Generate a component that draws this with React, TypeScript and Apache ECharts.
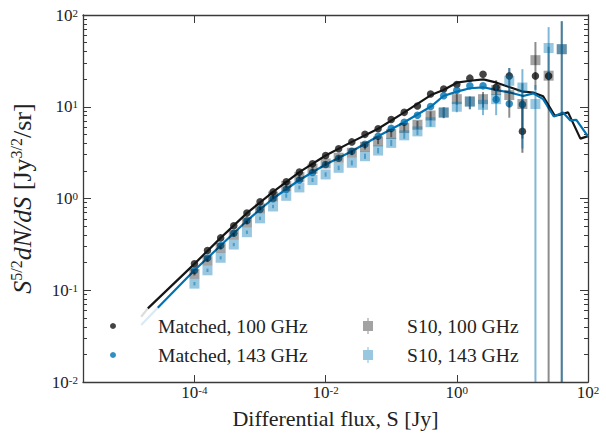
import React, { useEffect, useRef } from "react";
import * as echarts from "echarts";

// ---- data ----
const fluxBins = [1.0e-4, 1.58e-4, 2.51e-4, 3.98e-4, 6.31e-4, 1.0e-3, 1.58e-3, 2.51e-3, 3.98e-3, 6.31e-3, 1.0e-2, 1.58e-2, 2.51e-2, 3.98e-2, 6.31e-2, 0.1, 0.158, 0.251, 0.398, 0.631, 1.0, 1.58, 2.51, 3.98, 6.31, 10, 15.8, 25.1, 39.8];

const matched100 = [0.194, 0.271, 0.372, 0.505, 0.693, 0.919, 1.18, 1.52, 1.94, 2.39, 2.94, 3.48, 4.14, 5.0, 5.76, 7.27, 8.69, 10.2, 13.8, 15.6, 17.5, 20.5, 22.6, 16.3, 21.7, 5.39, 21.7, 21.7];
const matched143 = [0.164, 0.225, 0.307, 0.418, 0.573, 0.76, 0.993, 1.25, 1.59, 1.92, 2.35, 2.75, 3.27, 3.9, 4.76, 5.81, 6.78, 8.09, 10.05, 13.2, 15.1, 16.9, 16.9, 12.0, 10.8, 10.6];
const matched100ErrFlux = [10];
const matched100ErrLo = [3.15];
const matched100ErrHi = [11.9];

const s10at100 = [0.151, 0.211, 0.289, 0.403, 0.549, 0.778, 1.05, 1.37, 1.72, 2.11, 2.41, 2.78, 3.15, 3.66, 4.2, 5.05, 5.86, 6.37, 8.03, 8.65, 12.1, 11.4, 12.1, 15.2, 13.4, 10.7, 32.2, 21.8, 42.4];
const s10at100Lo = [0.145, 0.203, 0.278, 0.387, 0.527, 0.747, 1.0, 1.31, 1.64, 2.0, 2.28, 2.62, 2.96, 3.42, 3.91, 4.65, 5.35, 5.75, 7.15, 7.5, 10.5, 9.4, 9.8, 11.5, 7.6, 4.5, 15.3, 0.01, 0.01];
const s10at100Hi = [0.157, 0.219, 0.3, 0.419, 0.571, 0.809, 1.1, 1.43, 1.8, 2.22, 2.54, 2.94, 3.34, 3.9, 4.49, 5.45, 6.37, 7.0, 8.9, 9.9, 13.8, 12.9, 14.5, 19.5, 26.4, 18, 50.8, 45, 85.7];

const s10at143 = [0.118, 0.165, 0.226, 0.315, 0.429, 0.608, 0.819, 1.07, 1.32, 1.59, 1.83, 2.16, 2.45, 2.89, 3.33, 4.04, 4.88, 5.39, 6.78, 8.65, 10.0, 11.4, 10.5, 12.1, 19.2, 16.2, 10.7, 43.7, 42.4];
const s10at143Lo = [0.113, 0.158, 0.217, 0.302, 0.411, 0.583, 0.784, 1.02, 1.26, 1.51, 1.73, 2.04, 2.3, 2.7, 3.1, 3.73, 4.48, 4.9, 6.08, 7.6, 8.7, 9.4, 8.1, 8.1, 14.1, 3.5, 0.01, 20, 0.01];
const s10at143Hi = [0.123, 0.172, 0.235, 0.328, 0.447, 0.633, 0.854, 1.12, 1.38, 1.67, 1.93, 2.28, 2.6, 3.08, 3.56, 4.35, 5.28, 5.88, 7.48, 9.7, 11.5, 12.9, 13.5, 17.3, 26.4, 25.7, 17.3, 73.8, 85.7];

const model100Flux = [1.54e-5, 1.95e-5, 1e-4, 2.51e-4, 6.31e-4, 1.58e-3, 3.98e-3, 1e-2, 2.51e-2, 6.31e-2, 0.158, 0.403, 0.625, 1.0, 1.59, 2.54, 4.06, 6.46, 10.3, 14.6, 20.7, 31.2, 39.4, 49.7, 76.6, 100];
const model100 = [0.0515, 0.0634, 0.194, 0.372, 0.693, 1.18, 1.94, 2.94, 4.14, 5.76, 8.69, 13.4, 15.2, 18.3, 19.2, 19.9, 18.3, 16.3, 14.6, 14.3, 13.0, 7.97, 8.27, 8.69, 4.49, 4.78];
const model143Flux = [1.54e-5, 2.76e-5, 1e-4, 2.51e-4, 6.31e-4, 1.58e-3, 3.98e-3, 1e-2, 2.51e-2, 6.31e-2, 0.158, 0.403, 0.625, 1.0, 1.59, 2.54, 4.06, 6.46, 10.3, 14.6, 20.7, 30.1, 41.6, 53.8, 66.4, 100];
const model143 = [0.0418, 0.0645, 0.165, 0.307, 0.573, 1.0, 1.59, 2.35, 3.27, 4.76, 6.78, 10.05, 13.1, 14.6, 15.9, 16.3, 15.2, 14.3, 13.1, 14.0, 12.1, 7.83, 8.65, 7.1, 7.21, 4.76];

const xTickValues = [1e-4, 1e-2, 1, 100];
const yTickValues = [0.01, 0.1, 1, 10, 100];
const yMinorValues = [0.02, 0.03, 0.04, 0.05, 0.06, 0.07, 0.08, 0.09, 0.2, 0.3, 0.4, 0.5, 0.6, 0.7, 0.8, 0.9, 2, 3, 4, 5, 6, 7, 8, 9, 20, 30, 40, 50, 60, 70, 80, 90];

const names = ["Matched, 100 GHz", "Matched, 143 GHz", "S10, 100 GHz", "S10, 143 GHz"];

// ---- styles ----
const FONT = "Liberation Serif";
const AXIS_COLOR = "#3a3a3a";
const BLACK = "#151515";
const BLUE = "#0072b2";
const GRAY_A = "rgba(0,0,0,0.45)";
const LBLUE_A = "rgba(0,114,178,0.5)";

const expLabel = (v: number) => `{b|10}{s|${Math.round(Math.log10(v))}}`;
const labelRich = {
  b: { fontFamily: FONT, fontSize: 17, color: "#222", lineHeight: 16 },
  s: { fontFamily: FONT, fontSize: 11, color: "#222", lineHeight: 10, verticalAlign: "top" as const },
};

const errSeries = (xs: number[], lo: number[], hi: number[], color: string, z: number) => ({
  type: "custom",
  coordinateSystem: "cartesian2d",
  clip: true,
  silent: true,
  z,
  data: xs.map((x, i) => [x, lo[i], hi[i]]),
  encode: { x: 0, y: [1, 2] },
  renderItem: (_p: any, api: any) => {
    const a = api.coord([api.value(0), api.value(1)]);
    const b = api.coord([api.value(0), api.value(2)]);
    return {
      type: "line",
      shape: { x1: a[0], y1: a[1], x2: b[0], y2: b[1] },
      style: { stroke: color, lineWidth: 2 },
    };
  },
});

const yAxisBase = (pos: "left" | "right", minor: boolean, show: boolean) => ({
  type: "log",
  position: pos,
  min: 0.01,
  max: 100,
  logBase: 10,
  splitLine: { show: false },
  axisLine: { show: !minor, lineStyle: { color: AXIS_COLOR, width: 1.3 } },
  axisTick: {
    show: true,
    inside: true,
    length: minor ? 4 : 8,
    customValues: minor ? yMinorValues : yTickValues,
    lineStyle: { color: AXIS_COLOR, width: 1 },
  },
  axisLabel: show
    ? { show: true, formatter: expLabel, rich: labelRich, margin: 5 }
    : { show: false },
});

const LEGEND_TEXT = { fontFamily: FONT, fontSize: 19.6, color: "#222", lineHeight: 20 };

export default function App() {
  const ref = useRef<HTMLDivElement>(null);
  useEffect(() => {
    if (!ref.current) return;
    const chart = echarts.init(ref.current, undefined, { renderer: "svg" });
    const option: any = {
      animation: false,
      backgroundColor: "#ffffff",
      textStyle: { fontFamily: FONT },
      grid: { left: 82, right: 18, top: 15, bottom: 50 },
      xAxis: [
        {
          type: "log",
          position: "bottom",
          min: 2e-6,
          max: 100,
          splitLine: { show: false },
          axisLine: { show: true, lineStyle: { color: AXIS_COLOR, width: 1.3 } },
          axisTick: { show: true, inside: true, length: 7, customValues: xTickValues, lineStyle: { color: AXIS_COLOR } },
          axisLabel: { show: true, customValues: xTickValues, formatter: expLabel, rich: labelRich, margin: 2, showMinLabel: true, showMaxLabel: true },
          name: "Differential flux, S [Jy]",
          nameLocation: "middle",
          nameGap: 25,
          nameTextStyle: { fontFamily: FONT, fontSize: 22, color: "#222", lineHeight: 22 },
        },
        {
          type: "log",
          position: "top",
          min: 2e-6,
          max: 100,
          splitLine: { show: false },
          axisLine: { show: true, lineStyle: { color: AXIS_COLOR, width: 1.3 } },
          axisTick: { show: true, inside: true, length: 8, customValues: xTickValues, lineStyle: { color: AXIS_COLOR } },
          axisLabel: { show: false },
        },
      ],
      yAxis: [
        {
          ...yAxisBase("left", false, true),
          name: "{i|S}{sup|5/2}{i|dN/dS}{n| [Jy}{sup|3/2}{n|/sr]}",
          nameLocation: "middle",
          nameRotate: 90,
          nameGap: 47,
          nameTextStyle: {
            rich: {
              i: { fontFamily: FONT, fontStyle: "italic", fontSize: 26, color: "#222", lineHeight: 28 },
              n: { fontFamily: FONT, fontSize: 26, color: "#222", lineHeight: 28 },
              sup: { fontFamily: FONT, fontSize: 16, color: "#222", lineHeight: 15, verticalAlign: "top" },
            },
          },
        },
        yAxisBase("left", true, false),
        yAxisBase("right", false, false),
        yAxisBase("right", true, false),
      ],
      legend: [
        {
          data: [names[0], names[1]],
          orient: "vertical",
          left: 110,
          top: 316,
          padding: 0,
          itemWidth: 80,
          itemHeight: 6,
          itemGap: 9,
          textStyle: LEGEND_TEXT,
        },
        {
          data: [
            { name: names[2], icon: "path://M0,3h10v10H0z M4.4,0h1.2v16H4.4z" },
            { name: names[3], icon: "path://M0,3h10v10H0z M4.4,0h1.2v16H4.4z" },
          ],
          orient: "vertical",
          left: 363,
          top: 316,
          padding: 0,
          itemWidth: 68,
          itemHeight: 16,
          itemGap: 9,
          textStyle: LEGEND_TEXT,
        },
      ],
      series: [
        {
          type: "line",
          data: model100Flux.slice(0, 2).map((x, i) => [x, model100[i]]),
          showSymbol: false,
          silent: true,
          lineStyle: { color: BLACK, width: 2.2, opacity: 0.15 },
          z: 1,
        },
        {
          type: "line",
          data: model143Flux.slice(0, 2).map((x, i) => [x, model143[i]]),
          showSymbol: false,
          silent: true,
          lineStyle: { color: BLUE, width: 2.2, opacity: 0.15 },
          z: 1,
        },
        {
          type: "line",
          data: model100Flux.map((x, i) => [x, model100[i]]).slice(1),
          showSymbol: false,
          silent: true,
          lineStyle: { color: BLACK, width: 2.2 },
          z: 2,
        },
        {
          type: "line",
          data: model143Flux.map((x, i) => [x, model143[i]]).slice(1),
          showSymbol: false,
          silent: true,
          lineStyle: { color: BLUE, width: 2.2 },
          z: 2,
        },
        errSeries(matched100ErrFlux, matched100ErrLo, matched100ErrHi, "rgba(0,0,0,0.5)", 3),
        {
          name: names[0],
          type: "scatter",
          data: matched100.map((v, i) => [fluxBins[i], v]),
          symbol: "circle",
          symbolSize: 7.5,
          itemStyle: { color: BLACK },
          z: 3,
        },
        {
          name: names[1],
          type: "scatter",
          data: matched143.map((v, i) => [fluxBins[i], v]),
          symbol: "circle",
          symbolSize: 7.5,
          itemStyle: { color: BLUE },
          z: 3,
        },
        {
          name: names[2],
          type: "scatter",
          data: s10at100.map((v, i) => [fluxBins[i], v]),
          symbol: "rect",
          symbolSize: 10,
          itemStyle: { color: GRAY_A },
          z: 4,
        },
        errSeries(fluxBins, s10at100Lo, s10at100Hi, GRAY_A, 4),
        {
          name: names[3],
          type: "scatter",
          data: s10at143.map((v, i) => [fluxBins[i], v]),
          symbol: "rect",
          symbolSize: 10,
          itemStyle: { color: LBLUE_A },
          z: 5,
        },
        errSeries(fluxBins, s10at143Lo, s10at143Hi, LBLUE_A, 5),
      ],
    };
    chart.setOption(option);
    return () => chart.dispose();
  }, []);
  return (
    <div
      ref={ref}
      style={{ position: "fixed", left: 0, top: 0, width: 606, height: 434, background: "#fff" }}
    />
  );
}
